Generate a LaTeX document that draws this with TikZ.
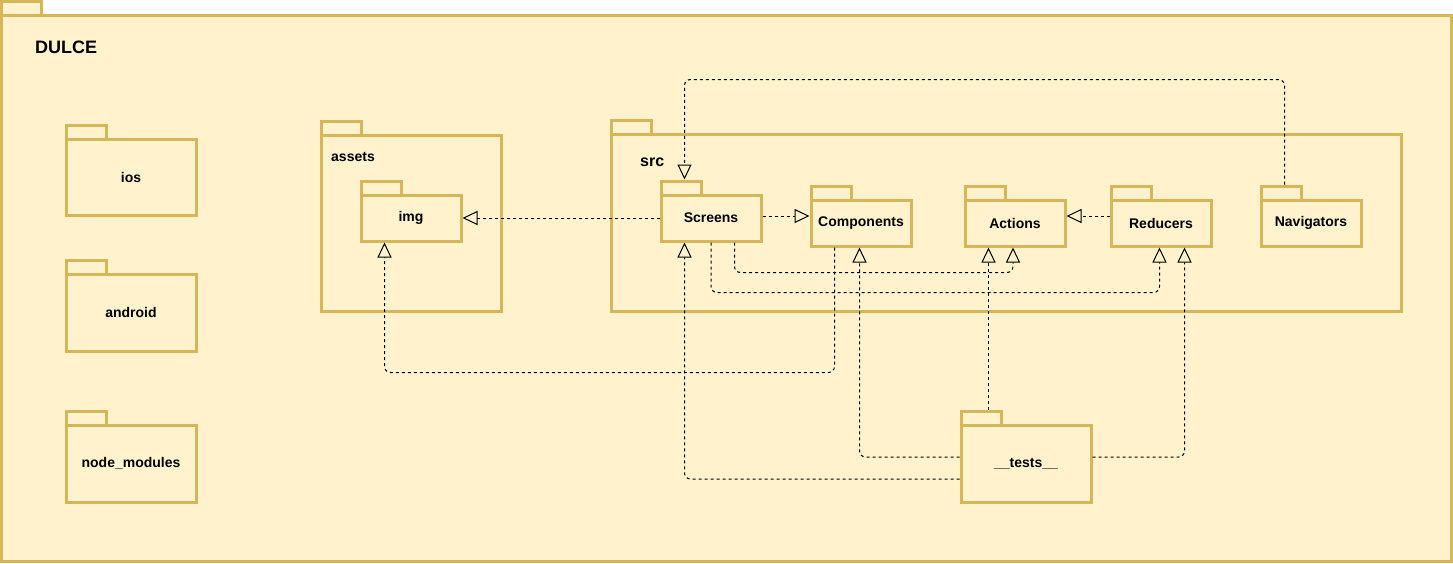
\documentclass[tikz,border=0pt]{standalone}
\usepackage{fontspec}
\setmainfont{Liberation Sans}
\usetikzlibrary{arrows.meta,calc}
\definecolor{pkgfill}{HTML}{FFF2CC}
\definecolor{pkgline}{HTML}{D6B656}
\tikzset{
  pkgbody/.style={draw=pkgline, fill=pkgfill, line width=3pt, rectangle, inner sep=0pt,
    font=\bfseries\fontsize{14}{16}\selectfont},
  pkgtab/.style={draw=pkgline, fill=pkgfill, line width=3pt, rectangle, inner sep=0pt,
    minimum width=40pt, minimum height=14pt},
  lbl/.style={font=\bfseries\fontsize{14}{16}\selectfont, inner sep=0pt, anchor=base west},
  dep/.style={draw=black, line width=1pt, dash pattern=on 3pt off 3pt, rounded corners=6pt,
    -{Triangle[open, length=15pt, width=14pt]}},
}
\begin{document}
\begin{tikzpicture}[x=1pt,y=-1pt]
\useasboundingbox (0,0) rectangle (1453,563);
% outer package
\node[pkgtab] (dulcetab) at (21,8) {};
\node[pkgbody, minimum width=1450pt, minimum height=546pt] (dulce) at (726,288) {};
\node[lbl, font=\bfseries\fontsize{18}{20}\selectfont] (dulcelbl) at (35,53.5) {DULCE};
% left column
\node[pkgtab] (iostab) at (86,132) {};
\node[pkgbody, minimum width=130pt, minimum height=76pt] (ios) at (131,177) {ios};
\node[pkgtab] (andtab) at (86,267) {};
\node[pkgbody, minimum width=130pt, minimum height=77pt] (android) at (131,312.5) {android};
\node[pkgtab] (nmtab) at (86,418) {};
\node[pkgbody, minimum width=130pt, minimum height=77pt] (nm) at (131,463.5) {node\_modules};
% assets
\node[pkgtab] (assetstab) at (341,128) {};
\node[pkgbody, minimum width=180pt, minimum height=176pt] (assets) at (411,223) {};
\node[lbl] (assetslbl) at (331,161.5) {assets};
\node[pkgtab] (imgtab) at (381,188) {};
\node[pkgbody, minimum width=100pt, minimum height=46pt] (img) at (411,218) {img};
% src
\node[pkgtab] (srctab) at (631,127) {};
\node[pkgbody, minimum width=790pt, minimum height=177pt] (src) at (1006,222.5) {};
\node[lbl, font=\bfseries\fontsize{16}{18}\selectfont] (srclbl) at (640,166.5) {src};
\node[pkgtab] (scrtab) at (681,188) {};
\node[pkgbody, minimum width=100pt, minimum height=46pt] (scr) at (711,218) {Screens};
\node[pkgtab] (comptab) at (831,193) {};
\node[pkgbody, minimum width=100pt, minimum height=46pt] (comp) at (861,223) {Components};
\node[pkgtab] (acttab) at (985,193) {};
\node[pkgbody, minimum width=100pt, minimum height=46pt] (act) at (1015,223) {Actions};
\node[pkgtab] (redtab) at (1131,193) {};
\node[pkgbody, minimum width=100pt, minimum height=46pt] (red) at (1161,223) {Reducers};
\node[pkgtab] (navtab) at (1281,193) {};
\node[pkgbody, minimum width=100pt, minimum height=46pt] (nav) at (1311,223) {Navigators};
% tests
\node[pkgtab] (testtab) at (981,418) {};
\node[pkgbody, minimum width=130pt, minimum height=77pt] (tests) at (1026,463.5) {\_\_tests\_\_};
% connectors
\draw[dep] (scr.west) -- (scr.west -| img.east);
\draw[dep] ($(scr.east)+(0,-2)$) -- ($(scr.east -| comp.west)+(0,-2)$);
\draw[dep] ($(red.west)+(0,-7)$) -- ($(red.west -| act.east)+(0,-7)$);
\draw[dep] ($(navtab.north west)+(25,0)$) -- ++(0,-105) -| ($(scrtab.north west)+(25,0)$);
\draw[dep] ($(comp.south west)+(25,0)$) -- ++(0,125) -| ($(img.south west)+(25,0)$);
\draw[dep] ($(scr.south west)+(75,0)$) -- ++(0,30) -| ($(act.south west)+(49.5,0)$);
\draw[dep] (scr.south) -- ++(0,50) -| ($(red.south west)+(50,0)$);
\draw[dep] ($(testtab.north west)+(29,0)$) -- ($(act.south west)+(25,0)$);
\draw[dep] ($(tests.west)+(0,-6.5)$) -| ($(comp.south west)+(50,0)$);
\draw[dep] ($(tests.west)+(0,15.5)$) -| ($(scr.south west)+(25,0)$);
\draw[dep] ($(tests.east)+(0,-6.5)$) -| ($(red.south west)+(75,0)$);
\end{tikzpicture}
\end{document}
